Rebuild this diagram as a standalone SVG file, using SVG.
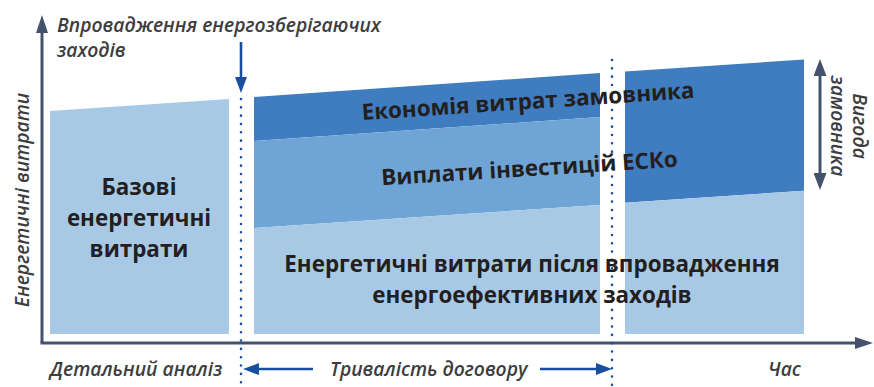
<svg xmlns="http://www.w3.org/2000/svg" width="874" height="387" viewBox="0 0 874 387">
<style>
.dark{fill:#3f7cc0}
.mid{fill:#6ea4d6}
.light{fill:#a7c9e5}
.box{font-family:"Open Sans","Noto Sans","Liberation Sans",sans-serif;font-weight:700;font-size:22.4px;fill:#231f20}
.lab{font-family:"Open Sans","Noto Sans","Liberation Sans",sans-serif;font-weight:600;font-style:italic;font-size:19.3px;fill:#3d3d3f}
.axis{stroke:#44526e;stroke-width:3;fill:none}
.blue{stroke:#1a4f9f;stroke-width:2.6;fill:none}
.dots{stroke:#1a4f9f;stroke-width:2.6;stroke-linecap:round;stroke-dasharray:0 8.33;fill:none}
</style>
<defs>
<marker id="ah" markerUnits="userSpaceOnUse" markerWidth="18" markerHeight="12" refX="8" refY="6" orient="auto-start-reverse"><path d="M0,0 L18,6 L0,12 z" fill="#44526e"/></marker>
<marker id="dh" markerUnits="userSpaceOnUse" markerWidth="17" markerHeight="13" refX="7" refY="6.5" orient="auto-start-reverse"><path d="M0,0 L17,6.5 L0,13 z" fill="#44526e"/></marker>
<marker id="bh" markerUnits="userSpaceOnUse" markerWidth="16" markerHeight="12" refX="6" refY="6" orient="auto"><path d="M0,0 L16,6 L0,12 z" fill="#1a4f9f"/></marker>
</defs>

<g id="base-costs">
<polygon class="light" points="50,111 229,99 229,334 50,334"/>
<text class="box" text-anchor="middle"><tspan x="139" y="195">Базові</tspan><tspan x="139" y="226">енергетичні</tspan><tspan x="139" y="257">витрати</tspan></text>
</g>

<g id="contract-period">
<polygon class="dark" points="254,97 600,73 600,117 254,141"/>
<polygon class="mid" points="254,141 600,117 600,205 254,228"/>
<polygon class="light" points="254,228 600,205 600,334 254,334"/>
</g>

<g id="after-contract">
<polygon class="dark" points="625,71.5 804,59.5 804,190.7 625,202.7"/>
<polygon class="light" points="625,202.7 804,190.7 804,334 625,334"/>
</g>

<g id="connectors">
<line class="axis" x1="42" y1="343" x2="42" y2="25" marker-end="url(#ah)"/>
<line class="axis" x1="40.5" y1="343" x2="863" y2="343" marker-end="url(#ah)"/>
<line class="dots" x1="241" y1="99" x2="241" y2="385"/>
<line class="dots" x1="612" y1="60" x2="612" y2="385"/>
<line class="blue" x1="241" y1="42" x2="241" y2="83" marker-end="url(#bh)"/>
<line class="blue" x1="313" y1="369" x2="253" y2="369" marker-end="url(#bh)"/>
<line class="blue" x1="540" y1="369" x2="602" y2="369" marker-end="url(#bh)"/>
<line class="axis" x1="820" y1="69" x2="820" y2="180" marker-start="url(#dh)" marker-end="url(#dh)"/>
</g>

<g id="band-labels">
<text class="box" text-anchor="middle" transform="translate(528.5,109) rotate(-3.8)">Економія витрат замовника</text>
<text class="box" text-anchor="middle" transform="translate(530,176) rotate(-3.6)">Виплати інвестицій ЕСКо</text>
<text class="box" text-anchor="middle"><tspan x="532" y="272">Енергетичні витрати після впровадження</tspan><tspan x="532" y="303">енергоефективних заходів</tspan></text>
</g>

<g id="axis-labels">
<text class="lab"><tspan x="57" y="32">Впровадження енергозберігаючих</tspan><tspan x="57" y="57">заходів</tspan></text>
<text class="lab" text-anchor="middle" transform="translate(29,200) rotate(-90)">Енергетичні витрати</text>
<text class="lab" x="50" y="376">Детальний аналіз</text>
<text class="lab" x="330" y="376">Тривалість договору</text>
<text class="lab" x="768" y="376">Час</text>
<text class="lab" text-anchor="middle" transform="translate(853,126) rotate(90)">Вигода</text>
<text class="lab" text-anchor="middle" transform="translate(831,126) rotate(90)">замовника</text>
</g>
</svg>
